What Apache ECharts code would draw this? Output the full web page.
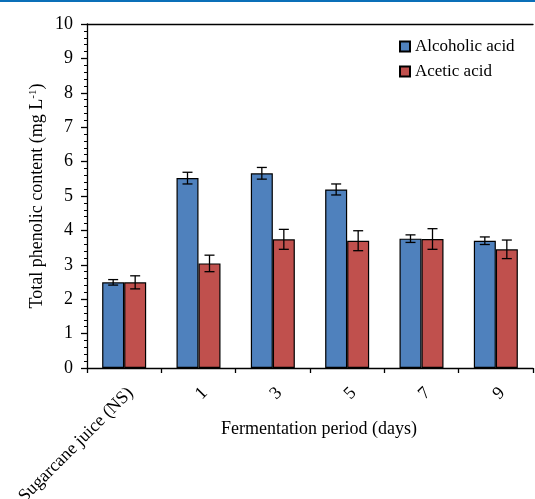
<!DOCTYPE html>
<html><head><meta charset="utf-8">
<script src="https://cdn.jsdelivr.net/npm/echarts@6/dist/echarts.min.js"></script>
<style>html,body{margin:0;padding:0;background:#fff}#c{width:535px;height:499px}</style>
</head><body><div id="c"></div>
<script>
const categories = ['Sugarcane juice (NS)', '1', '3', '5', '7', '9'];
const alcoholic = [2.49, 5.52, 5.66, 5.19, 3.76, 3.70];
const alcoholicErr = [0.08, 0.17, 0.17, 0.16, 0.11, 0.11];
const acetic = [2.49, 3.04, 3.74, 3.70, 3.75, 3.45];
const aceticErr = [0.19, 0.24, 0.29, 0.29, 0.30, 0.27];
const yTicks = [0, 1, 2, 3, 4, 5, 6, 7, 8, 9, 10];

const FONT = 'Liberation Serif';
const BAR_W = 22;

function errSeries(vals, errs, side) {
  return {
    type: 'custom',
    z: 10,
    silent: true,
    data: vals.map((v, i) => [i, v, errs[i]]),
    renderItem: function (params, api) {
      const i = api.value(0), v = api.value(1), e = api.value(2);
      const hi = api.coord([i, v + e]);
      const lo = api.coord([i, v - e]);
      const x = hi[0] + side * BAR_W / 2;
      const cap = 5;
      const st = { stroke: '#000', lineWidth: 1.3 };
      return {
        type: 'group',
        children: [
          { type: 'line', shape: { x1: x, y1: hi[1], x2: x, y2: lo[1] }, style: st },
          { type: 'line', shape: { x1: x - cap, y1: hi[1], x2: x + cap, y2: hi[1] }, style: st },
          { type: 'line', shape: { x1: x - cap, y1: lo[1], x2: x + cap, y2: lo[1] }, style: st }
        ]
      };
    }
  };
}

const chart = echarts.init(document.getElementById('c'));
chart.setOption({
  animation: false,
  textStyle: { fontFamily: FONT },
  graphic: [{ type: 'rect', shape: { x: 0, y: 0, width: 535, height: 2 }, style: { fill: '#0a6fb8' } }],
  legend: {
    orient: 'vertical',
    left: 394, top: 33,
    itemWidth: 10, itemHeight: 10, itemGap: 8,
    icon: 'rect',
    textStyle: { fontFamily: FONT, fontSize: 17, color: '#000' },
    data: ['Alcoholic acid', 'Acetic acid']
  },
  grid: { left: 87, right: 2, top: 24, bottom: 131, containLabel: false, outerBoundsMode: 'none' },
  xAxis: [{
    type: 'category',
    data: categories,
    axisLine: { lineStyle: { color: '#000', width: 1.3 } },
    axisTick: { show: true, length: 5, interval: 0, lineStyle: { color: '#000', width: 1.3 } },
    axisLabel: { rotate: 45, interval: 0, fontFamily: FONT, fontSize: 18, color: '#000', margin: 16, verticalAlign: 'top' },
    name: 'Fermentation period (days)',
    nameLocation: 'middle',
    nameGap: 52,
    nameMoveOverlap: false,
    nameTextStyle: { fontFamily: FONT, fontSize: 18, color: '#000', padding: [0, 0, 0, 18] }
  }, {
    type: 'category',
    position: 'top',
    data: categories,
    axisLine: { show: true, lineStyle: { color: '#000', width: 1.3 } },
    axisTick: { show: false },
    axisLabel: { show: false }
  }],
  yAxis: {
    type: 'value',
    min: yTicks[0], max: yTicks[yTicks.length - 1], interval: 1,
    axisLine: { show: true, lineStyle: { color: '#000', width: 1.3 } },
    axisTick: { show: true, length: 6, lineStyle: { color: '#000', width: 1.3 } },
    minorTick: { show: true, splitNumber: 5, length: 3, lineStyle: { color: '#000', width: 1 } },
    splitLine: { show: false },
    axisLabel: { fontFamily: FONT, fontSize: 18, color: '#000', margin: 14 },
    name: '{n|Total phenolic content (mg L}{s|-1}{n|)}',
    nameLocation: 'middle',
    nameGap: 40,
    nameMoveOverlap: false,
    nameTextStyle: {
      rich: {
        n: { fontFamily: FONT, fontSize: 18, color: '#000' },
        s: { fontFamily: FONT, fontSize: 11, color: '#000', verticalAlign: 'top', padding: [0, 0, 8, 0] }
      }
    }
  },
  series: [
    {
      name: 'Alcoholic acid', type: 'bar', data: alcoholic, barWidth: BAR_W, barGap: '0%',
      itemStyle: { color: '#4F81BD', borderColor: '#000', borderWidth: 1.2 }
    },
    {
      name: 'Acetic acid', type: 'bar', data: acetic, barWidth: BAR_W, barGap: '0%',
      itemStyle: { color: '#C0504D', borderColor: '#000', borderWidth: 1.2 }
    },
    errSeries(alcoholic, alcoholicErr, -1),
    errSeries(acetic, aceticErr, 1)
  ]
});
</script></body></html>
